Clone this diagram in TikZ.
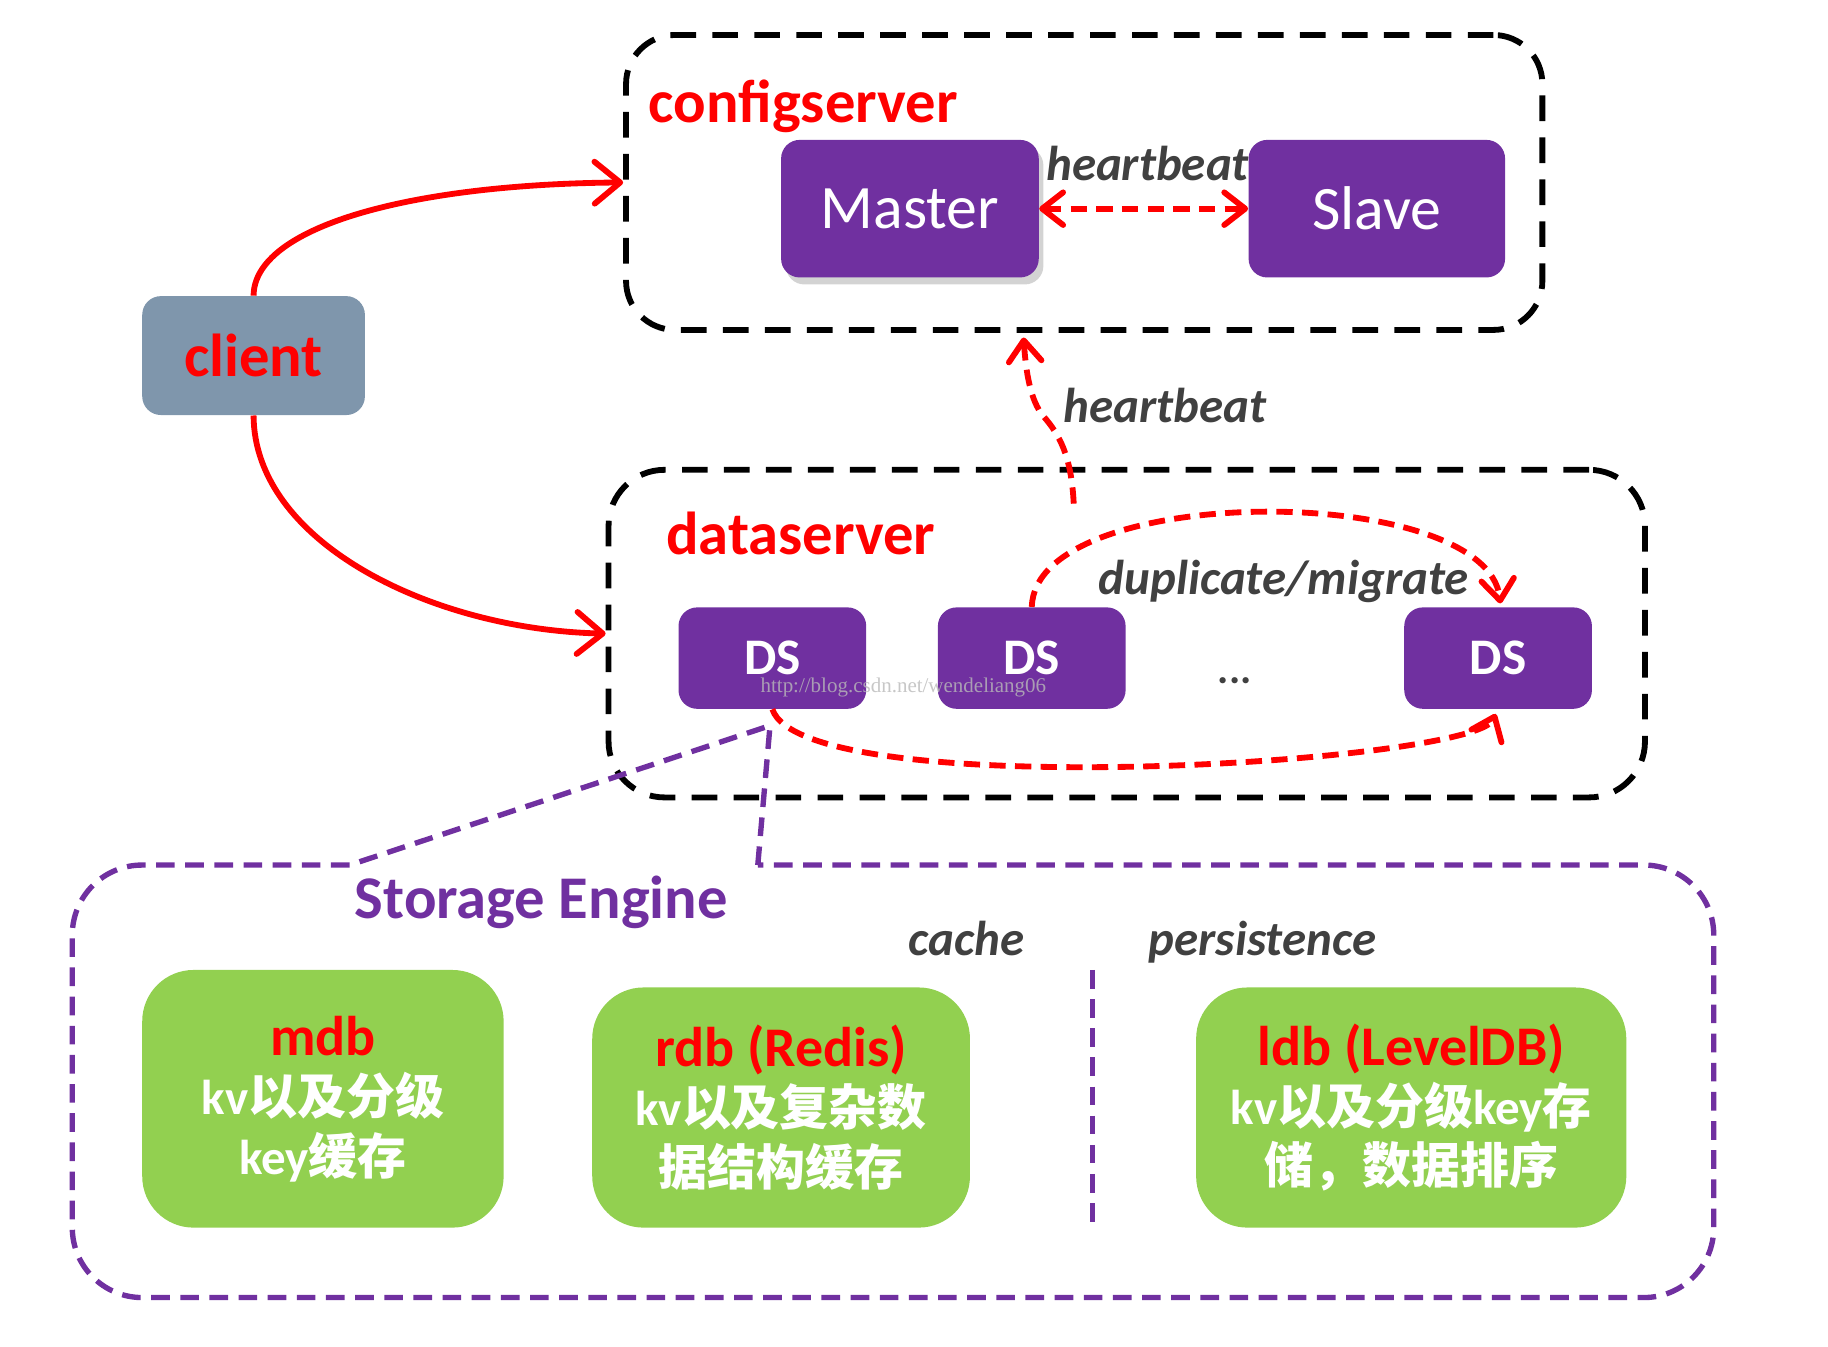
\documentclass[tikz,border=0pt]{standalone}
\usepackage{fontspec}
\setmainfont{Carlito}
\newfontfamily\cjk{Noto Sans CJK SC}
\newfontfamily\wmfont{Liberation Serif}
\usetikzlibrary{arrows.meta,calc,shadows}
\definecolor{cRed}{HTML}{FF0000}
\definecolor{cPurple}{HTML}{7030A0}
\definecolor{cGreen}{HTML}{92D050}
\definecolor{cSlate}{HTML}{7F96AC}
\definecolor{cText}{HTML}{404040}
\begin{document}
\begin{tikzpicture}[x=0.5pt,y=-0.5pt,
  purplebox/.style={fill=cPurple, rounded corners=8pt, text=white, inner sep=0pt},
  greenbox/.style={fill=cGreen, rounded corners=22pt, align=center, inner sep=0pt, text=white,
    font=\fontsize{21pt}{25.5pt}\selectfont\bfseries},
  zonebox/.style={draw=black, line width=2.5pt, dash pattern=on 11pt off 7pt, inner sep=0pt},
  redline/.style={draw=cRed, line width=2.5pt},
  reddash/.style={draw=cRed, line width=2.5pt, dash pattern=on 7pt off 4pt},
  arrowend/.style={-{Straight Barb[round,length=11pt,width=18pt]}},
  dasharrowend/.style={-{Straight Barb[round,length=9pt,width=14pt]}},
  bothends/.style={{Straight Barb[round,length=9pt,width=14pt]}-{Straight Barb[round,length=9pt,width=14pt]}},
  purpledash/.style={draw=cPurple, line width=2.3pt, dash pattern=on 8pt off 4.5pt},
  lbl/.style={font=\fontsize{21pt}{25pt}\selectfont\bfseries\itshape, text=cText, inner sep=0pt, anchor=base west},
  headline/.style={font=\fontsize{26pt}{30pt}\selectfont\bfseries, inner sep=0pt, anchor=base west},
  dsbox/.style={purplebox, minimum width=80.5pt, minimum height=43.5pt, font=\fontsize{22pt}{26pt}\selectfont\bfseries},
]
\useasboundingbox (0,0) rectangle (1568,1155);

% zone boxes
\node[zonebox, rounded corners=21pt, minimum width=393pt, minimum height=126.5pt] (cfgbox) at (930,156.5) {};
\node[zonebox, rounded corners=24pt, minimum width=444.5pt, minimum height=140.5pt] (dsbox) at (966.5,543.5) {};

% labels
\node[headline, text=cRed] (cfglabel) at (556,105) {configserver};
\node[headline, text=cRed] (dslabel) at (571,476) {dataserver};
\node[headline, text=cPurple] (selabel) at (304,788) {Storage Engine};

% config server nodes
\node[purplebox, minimum width=110.5pt, minimum height=59pt, font=\fontsize{26.5pt}{30pt}\selectfont,
  drop shadow={opacity=0.35, shadow xshift=2pt, shadow yshift=-3pt}] (master) at (780.5,179) {\raisebox{-1pt}{Master}};
\node[purplebox, minimum width=110pt, minimum height=59pt, font=\fontsize{26.5pt}{30pt}\selectfont] (slave) at (1181,179) {\raisebox{-1pt}{Slave}};
\node[lbl] (hb1) at (897,155) {heartbeat};

% client
\node[fill=cSlate, rounded corners=8pt, minimum width=95.5pt, minimum height=51pt, inner sep=0pt,
  text=cRed, font=\fontsize{26pt}{30pt}\selectfont\bfseries] (client) at (217.5,305) {client};

% data servers
\node[dsbox] (ds1) at (662.5,564.5) {\raisebox{-1.5pt}{DS}};
\node[dsbox] (ds2) at (885,564.5) {\raisebox{-1.5pt}{DS}};
\node[dsbox] (ds3) at (1285,564.5) {\raisebox{-1.5pt}{DS}};
\node[font=\fontsize{18pt}{20pt}\selectfont\bfseries, text=cText, inner sep=0pt, anchor=base] (dots) at (1059,586) {...};
\node[lbl] (hb2) at (912,362) {heartbeat};
\node[lbl] (dm) at (942,510) {duplicate/migrate};

% storage engine
\coordinate (calltip) at ($(ds1.south)+(-2,14)$);
\draw[purpledash] (650,742) -- (calltip) -- (300,742) [rounded corners=30pt] -- (62,742) -- (62,1113) -- (1470,1113) -- (1470,742) -- (650,742);
\draw[purpledash] (937,832) -- (937,1052);
\node[lbl] (cache) at (779,820) {cache};
\node[lbl] (pers) at (985,820) {persistence};

\node[greenbox, minimum width=155pt, minimum height=110.5pt] (mdb) at (277,942.5)
  {{\fontsize{24pt}{25.5pt}\selectfont\textcolor{cRed}{mdb}}\\kv{\cjk 以及分级}\\key{\cjk 缓存}};
\node[greenbox, minimum width=162pt, minimum height=103pt] (rdb) at (670,950)
  {{\fontsize{24pt}{25.5pt}\selectfont\textcolor{cRed}{rdb (Redis)}}\\kv{\cjk 以及复杂数}\\{\cjk 据结构缓存}};
\node[greenbox, minimum width=184.5pt, minimum height=103pt] (ldb) at (1210.5,950)
  {{\fontsize{24pt}{25.5pt}\selectfont\textcolor{cRed}{ldb (LevelDB)}}\\kv{\cjk 以及分级}key{\cjk 存}\\{\cjk 储，数据排序}};

% connectors
\draw[redline, arrowend] (client.north) .. controls (218,195) and (350,158) .. (cfgbox.west);
\draw[redline, arrowend] (client.south) .. controls (218,465) and (370,540) .. (dsbox.west);
\draw[reddash, bothends] (master.east) -- (slave.west);
\coordinate (hbstart) at (921,432);
\coordinate (hbend) at ($(cfgbox.south)+(-52,4)$);
\draw[reddash, dasharrowend] (hbstart) .. controls (919,390) and (908,372) .. (895,357) .. controls (884,344) and (880,320) .. (hbend);
\draw[reddash, dasharrowend] (ds2.north) .. controls (888,413) and (1275,413) .. ($(ds3.north)+(2,-3)$);
\draw[reddash, dasharrowend] (ds1.south) .. controls (690,690) and (1265,655) .. ($(ds3.south)+(-2,4)$);

% watermark
\node[font=\wmfont\fontsize{9pt}{10pt}\selectfont, text=gray!55, opacity=0.8, inner sep=0pt, anchor=base west] (wm) at (652,594) {http://blog.csdn.net/wendeliang06};
\end{tikzpicture}
\end{document}
